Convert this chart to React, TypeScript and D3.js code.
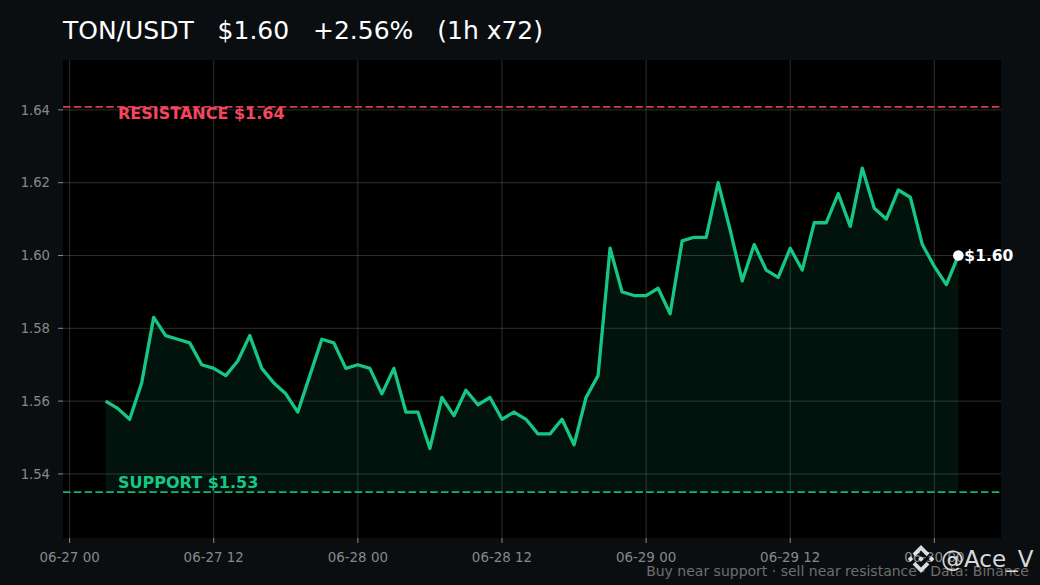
import React from "react";
import * as d3 from "d3";

const W = 1040;
const H = 585;

const startTime = "2024-06-27T03:00:00Z";
const prices: number[] = [
  1.560, 1.558, 1.555, 1.565, 1.583, 1.578, 1.577, 1.576, 1.570, 1.569,
  1.567, 1.571, 1.578, 1.569, 1.565, 1.562, 1.557, 1.567, 1.577, 1.576,
  1.569, 1.570, 1.569, 1.562, 1.569, 1.557, 1.557, 1.547, 1.561, 1.556,
  1.563, 1.559, 1.561, 1.555, 1.557, 1.555, 1.551, 1.551, 1.555, 1.548,
  1.561, 1.567, 1.602, 1.590, 1.589, 1.589, 1.591, 1.584, 1.604, 1.605,
  1.605, 1.620, 1.607, 1.593, 1.603, 1.596, 1.594, 1.602, 1.596, 1.609,
  1.609, 1.617, 1.608, 1.624, 1.613, 1.610, 1.618, 1.616, 1.603, 1.597,
  1.592, 1.600,
];
const yTicks: number[] = [1.54, 1.56, 1.58, 1.6, 1.62, 1.64];
const xTickTimes: string[] = [
  "2024-06-27T00:00:00Z",
  "2024-06-27T12:00:00Z",
  "2024-06-28T00:00:00Z",
  "2024-06-28T12:00:00Z",
  "2024-06-29T00:00:00Z",
  "2024-06-29T12:00:00Z",
  "2024-06-30T00:00:00Z",
];
const supportValue = 1.535;
const resistanceValue = 1.6408;
const supportLabel = "SUPPORT $1.53";
const resistanceLabel = "RESISTANCE $1.64";
const titleText = "TON/USDT   $1.60   +2.56%   (1h x72)";
const lastLabel = "$1.60";
const footerText = "Buy near support · sell near resistance · Data: Binance";
const watermark = "@Ace_V";
const yDomain: [number, number] = [1.5224, 1.6537];

const GREEN = "#16c784";
const RED = "#f6465d";

export default function App() {
  const t0 = new Date(startTime).getTime();
  const HOUR = 3600 * 1000;
  const data = prices.map((v, i) => ({ t: new Date(t0 + i * HOUR), v }));
  const tFirst = data[0].t.getTime();
  const tLast = data[data.length - 1].t.getTime();
  const pad = (tLast - tFirst) * 0.05;

  const left = 63, right = 1001, top = 60, bottom = 538;
  const x = d3.scaleUtc().domain([new Date(tFirst - pad), new Date(tLast + pad)]).range([left, right]);
  const y = d3.scaleLinear().domain(yDomain).range([bottom, top]);

  const line = d3.line<{ t: Date; v: number }>().x(d => x(d.t)).y(d => y(d.v));
  const area = d3.area<{ t: Date; v: number }>().x(d => x(d.t)).y0(y(supportValue)).y1(d => y(d.v));
  const fmt = d3.utcFormat("%m-%d %H");
  const last = data[data.length - 1];

  const logoPolys: [number, number][][] = [
    [[0, -0.2], [0.2, 0], [0, 0.2], [-0.2, 0]],
    [[-0.75, -0.2], [-0.55, 0], [-0.75, 0.2], [-0.95, 0]],
    [[0.75, -0.2], [0.95, 0], [0.75, 0.2], [0.55, 0]],
    [[0, -1], [0.6, -0.4], [0.4, -0.2], [0, -0.6], [-0.4, -0.2], [-0.6, -0.4]],
    [[0, 1], [0.6, 0.4], [0.4, 0.2], [0, 0.6], [-0.4, 0.2], [-0.6, 0.4]],
  ];
  const logoCx = 921, logoCy = 559, logoR = 14;

  return (
    <div style={{ position: "absolute", left: 0, top: 0 }}>
      <svg width={W} height={H} style={{ display: "block", fontFamily: "DejaVu Sans, sans-serif" }}>
        <rect x={0} y={0} width={W} height={H} fill="#0b0e11" />
        <rect x={left} y={top} width={right - left} height={bottom - top} fill="#000000" />
        {yTicks.map(v => (
          <line key={"gy" + v} x1={left} x2={right} y1={y(v)} y2={y(v)} stroke="#ffffff" strokeOpacity={0.18} strokeWidth={1} />
        ))}
        {xTickTimes.map(s => {
          const d = new Date(s);
          return <line key={"gx" + s} x1={x(d)} x2={x(d)} y1={top} y2={bottom} stroke="#ffffff" strokeOpacity={0.18} strokeWidth={1} />;
        })}
        <path d={area(data) || ""} fill={GREEN} fillOpacity={0.09} />
        <line x1={left} x2={right} y1={y(resistanceValue)} y2={y(resistanceValue)} stroke={RED} strokeOpacity={0.85} strokeWidth={1.8} strokeDasharray="7.5 3.3" />
        <line x1={left} x2={right} y1={y(supportValue)} y2={y(supportValue)} stroke={GREEN} strokeOpacity={0.9} strokeWidth={1.8} strokeDasharray="7.5 3.3" />
        <text x={118} y={y(resistanceValue) + 12.5} fill={RED} fontSize={16} fontWeight="bold">{resistanceLabel}</text>
        <text x={118} y={y(supportValue) - 4} fill={GREEN} fontSize={16} fontWeight="bold">{supportLabel}</text>
        <path d={line(data) || ""} fill="none" stroke={GREEN} strokeWidth={3.3} strokeLinejoin="round" />
        <circle cx={x(last.t)} cy={y(last.v)} r={5.3} fill="#ffffff" />
        <text x={x(last.t) + 6} y={y(last.v) + 5.5} fill="#ffffff" fontSize={15.5} fontWeight="bold">{lastLabel}</text>
        {yTicks.map(v => (
          <g key={"ty" + v}>
            <line x1={left - 5} x2={left} y1={y(v)} y2={y(v)} stroke="#888" strokeWidth={1} />
            <text x={left - 13} y={y(v) + 4.8} fill="#888" fontSize={13.2} textAnchor="end">{v.toFixed(2)}</text>
          </g>
        ))}
        {xTickTimes.map(s => {
          const d = new Date(s);
          return (
            <g key={"tx" + s}>
              <line x1={x(d)} x2={x(d)} y1={bottom} y2={bottom + 5} stroke="#888" strokeWidth={1} />
              <text x={x(d)} y={562} fill="#888" fontSize={13.4} textAnchor="middle">{fmt(d)}</text>
            </g>
          );
        })}
        <text x={63} y={39} fill="#ffffff" fontSize={25} style={{ whiteSpace: "pre" }}>{titleText}</text>
        <text x={1029} y={576} fill="#6e6e6e" fontSize={14} textAnchor="end">{footerText}</text>
        <g fill="#ffffff" fillOpacity={0.85}>
          {logoPolys.map((p, i) => (
            <polygon key={"lp" + i} points={p.map(([a, b]) => `${logoCx + a * logoR},${logoCy + b * logoR}`).join(" ")} />
          ))}
          <text x={941} y={567} fontSize={23}>{watermark}</text>
        </g>
      </svg>
    </div>
  );
}
